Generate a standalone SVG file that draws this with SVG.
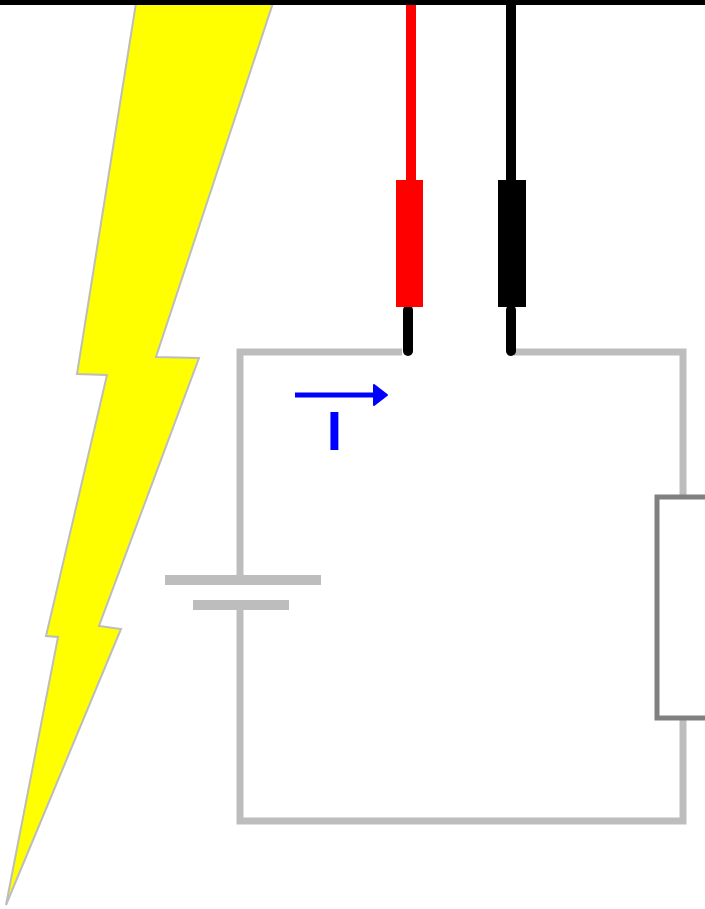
<svg xmlns="http://www.w3.org/2000/svg" width="705" height="909" viewBox="0 0 705 909">
<style>
.w{fill:none;stroke:#bdbdbd;stroke-width:7}
.p{stroke-width:10;stroke-linecap:round;fill:none;stroke:#000}
text{font-family:"Liberation Sans",Arial,sans-serif}
</style>
<rect width="705" height="909" fill="#fff"/>
<g id="bolt"><polygon points="136,3 273,3 156,357 199,358 99,626 121,629 6,905 58,637 46,636 107,375 77,374" fill="#ffff00" stroke="#bdbdbd" stroke-width="2"/></g>
<g id="connectors">
<path class="w" d="M402,352H240V576M240,608V821H683V720M683,497V352H514"/>
<path d="M295,395H376" stroke="#0000ff" stroke-width="5" fill="none"/>
<polygon points="374,385 387,395 374,405" fill="#0000ff" stroke="#0000ff" stroke-width="2" stroke-linejoin="round"/>
</g>
<g id="top-bar"><rect x="0" y="0" width="705" height="5" fill="#000"/></g>
<g id="battery"><rect x="165" y="575" width="156" height="10" fill="#bdbdbd"/><rect x="193" y="600" width="96" height="10" fill="#bdbdbd"/></g>
<g id="resistor"><rect x="657" y="497" width="60" height="221" fill="#fff" stroke="#808080" stroke-width="5"/></g>
<g id="red-probe"><path class="p" d="M408,310V351"/><rect x="406" y="5" width="10" height="176" fill="#ff0000"/><rect x="396" y="180" width="27" height="127" fill="#ff0000"/></g>
<g id="black-probe"><path class="p" d="M511,310V351"/><rect x="506" y="5" width="10" height="176" fill="#000"/><rect x="498" y="180" width="28" height="127" fill="#000"/></g>
<g id="current-label"><text x="334.5" y="450" font-size="55" font-weight="bold" fill="#0000ff" text-anchor="middle">I</text></g>
</svg>
